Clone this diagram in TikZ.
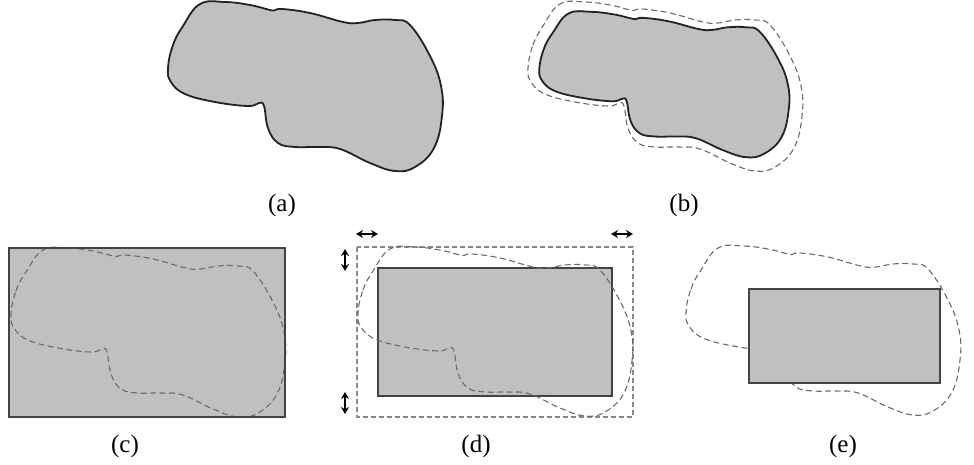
\documentclass[tikz,border=0pt]{standalone}
\usepackage{fontspec}
\setmainfont{Liberation Serif}
\usetikzlibrary{arrows.meta}
\definecolor{blobfill}{HTML}{C0C0C0}
\definecolor{edge}{HTML}{222222}
\definecolor{dashc}{HTML}{6A6A6A}
\newcommand\drawblob[1]{\path[#1] plot[smooth cycle, tension=0.7] coordinates {
 (168,68) (173,45) (183,26) (200,4) (225,2) (250,5) (268,9.5) (274,10.5) (282,9) (310,13)
 (343,22) (358,23) (375,20) (395,20) (410,25) (430,56) (441,86) (442,116) (434,148)
 (415,167) (395,171) (370,163) (340,149) (318,147) (295,147) (278,143) (268,128)
 (264,106) (259,103) (248,106) (215,102) (185,94) (171,82)};}
\tikzset{
  solidblob/.style={fill=blobfill, draw=edge, line width=1.8pt},
  dashblob/.style={draw=dashc, line width=1.1pt, dash pattern=on 6pt off 3.5pt},
  box/.style={fill=blobfill, draw=edge!85!white, line width=2.2pt},
  dashbox/.style={draw=dashc!80!white, line width=1.1pt, dash pattern=on 5pt off 3pt},
  lab/.style={font=\fontsize{25}{28}\selectfont, inner sep=0pt},
  dbl/.style={{Stealth[length=7pt,width=8pt]}-{Stealth[length=7pt,width=8pt]}, line width=1.6pt, draw=black}
}
\begin{document}
\begin{tikzpicture}[x=1pt,y=-1pt]
\useasboundingbox (0,0) rectangle (974,465);
% (a)
\drawblob{solidblob}
\node[lab] (la) at (282,205) {(a)};
% (b)
\drawblob{dashblob, shift={(360,0)}}
\drawblob{solidblob, shift={(664,84.5)}, xscale=0.91, yscale=0.86, shift={(-305,-86.5)}}
\node[lab] (lb) at (684,205) {(b)};
% (c)
\path[fill=blobfill] (9,248) rectangle (285,417);
\drawblob{dashblob, shift={(-157,246)}}
\draw[box, fill=none] (9,248) rectangle (285,417);
\node[lab] (lc) at (125,446) {(c)};
% (d)
\draw[dashbox] (357,247) rectangle (633,417);
\draw[box] (378,268) rectangle (612,396);
\drawblob{dashblob, shift={(190,245)}}
\draw[dbl] (356,234) -- (378,234);
\draw[dbl] (611,234) -- (633,234);
\draw[dbl] (345,249) -- (345,271);
\draw[dbl] (345,392) -- (345,414);
\node[lab] (ld) at (476,446) {(d)};
% (e)
\drawblob{dashblob, shift={(518,244)}}
\draw[box] (749,289) rectangle (940,383);
\node[lab] (le) at (843,446) {(e)};
\end{tikzpicture}
\end{document}
